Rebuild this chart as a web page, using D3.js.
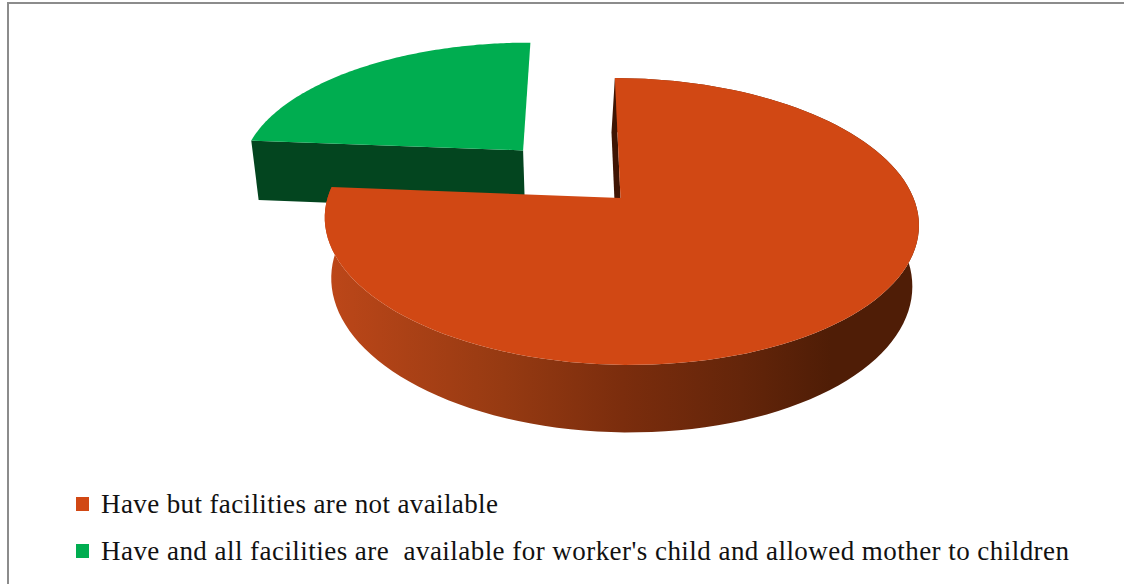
<!DOCTYPE html>
<html>
<head>
<meta charset="utf-8">
<script src="https://cdn.jsdelivr.net/npm/d3@7"></script>
<style>
  html, body { margin: 0; padding: 0; background: #fff; }
  svg { display: block; }
  text { font-family: "Liberation Serif", serif; white-space: pre; fill: #111; }
</style>
</head>
<body>
<div id="chart"></div>
<script>
const categories = [
  "Have but facilities are not available",
  "Have and all facilities are  available for worker's child and allowed mother to children"
];
const shares = [76.2, 23.8];
const explode = [0, 0.49];
const colors = ["#d14814", "#00ad50"];
const wallColors = ["#3f1504", "#03451f"];
const sideStops = [
  [0, "#bd4719"], [0.3, "#963a12"], [0.5, "#7b2d0d"],
  [0.7, "#64250a"], [0.85, "#4f1d06"], [1, "#4f1d06"]
];

const width = 1124, height = 584;
const svg = d3.select("#chart").append("svg")
  .attr("width", width)
  .attr("height", height);

// frame, only the top and left edges are in the picture
svg.append("path")
  .attr("d", `M8,${height}V3H${width}`)
  .attr("fill", "none")
  .attr("stroke", "#8c8c8c")
  .attr("stroke-width", 2);

// unit disc coordinates to screen, with a bit of perspective
const x = d3.scaleLinear().domain([-1, 1]).range([620.5 - 293, 620.5 + 293]);
const y = d3.scaleLinear().domain([-1, 1]).range([198 + 139.6, 198 - 139.6]);
const perspective = 0.1637, depthShrink = 0.022, thickness = 61.6, shear = 8;

function project(u, v, low) {
  const s = 1 / (1 + perspective * v + (low ? depthShrink : 0));
  return [
    x(0) + (x(u) - x(0)) * s - shear * v * s,
    y(0) + (y(v) - y(0)) * s + (low ? thickness * s : 0)
  ];
}

const pie = d3.pie().sort(null).startAngle(0.005).endAngle(2 * Math.PI + 0.005);
const arcs = pie(shares);
const line = d3.line();

const defs = svg.append("defs");
defs.append("linearGradient")
  .attr("id", "side")
  .attr("gradientUnits", "userSpaceOnUse")
  .attr("x1", 325).attr("x2", 920).attr("y1", 0).attr("y2", 0)
  .selectAll("stop").data(sideStops).join("stop")
  .attr("offset", d => d[0])
  .attr("stop-color", d => d[1]);

// the exploded slice sits a little further left than the model puts it
function slicePoint(a, u, v, low) {
  const mid = (a.startAngle + a.endAngle) / 2;
  const p = project(Math.sin(mid) * explode[a.index] + u, Math.cos(mid) * explode[a.index] + v, low);
  return a.index === 1 ? [p[0] - 3, p[1] + (low ? 2 : 0)] : p;
}

function rim(a, low) {
  return d3.range(0, 121).map(i => {
    const t = a.startAngle + (a.endAngle - a.startAngle) * i / 120;
    return slicePoint(a, Math.sin(t), Math.cos(t), low);
  });
}

// green first, the big slice sits in front of it
[arcs[1], arcs[0]].forEach(a => {
  const top = rim(a, false), low = rim(a, true);
  const g = svg.append("g");
  // the big slice shows a thin sliver of its cut wall left of the edge
  const nudge = a.index === 0 ? -3.5 : 0;

  // outer wall, the green one faces away
  if (a.index === 0) {
    g.append("path")
      .attr("d", line(top.concat(low.slice().reverse())) + "Z")
      .attr("fill", "url(#side)");
  }

  // cut wall, the other one faces away
  const lowApex = slicePoint(a, 0, 0, true), lowEdge = low[0];
  g.append("path")
    .attr("d", line([
      slicePoint(a, 0, 0, false), top[0],
      [lowEdge[0] + nudge, lowEdge[1]],
      [lowApex[0] + nudge, lowApex[1]]
    ]) + "Z")
    .attr("fill", wallColors[a.index]);

  // top face
  g.append("path")
    .attr("d", line([slicePoint(a, 0, 0, false)].concat(top)) + "Z")
    .attr("fill", colors[a.index]);
});

// legend
const legendY = d3.scalePoint().domain(categories).range([504, 551]);
const legend = svg.append("g").selectAll("g").data(categories).join("g");
legend.append("rect")
  .attr("x", 76)
  .attr("y", d => legendY(d) - 7)
  .attr("width", 13)
  .attr("height", 14)
  .attr("fill", (d, i) => colors[i]);
legend.append("text")
  .attr("x", 101)
  .attr("y", d => legendY(d) + 9)
  .attr("font-size", 27)
  .attr("textLength", (d, i) => [397, 968][i])
  .attr("lengthAdjust", "spacing")
  .text(d => d);
</script>
</body>
</html>
